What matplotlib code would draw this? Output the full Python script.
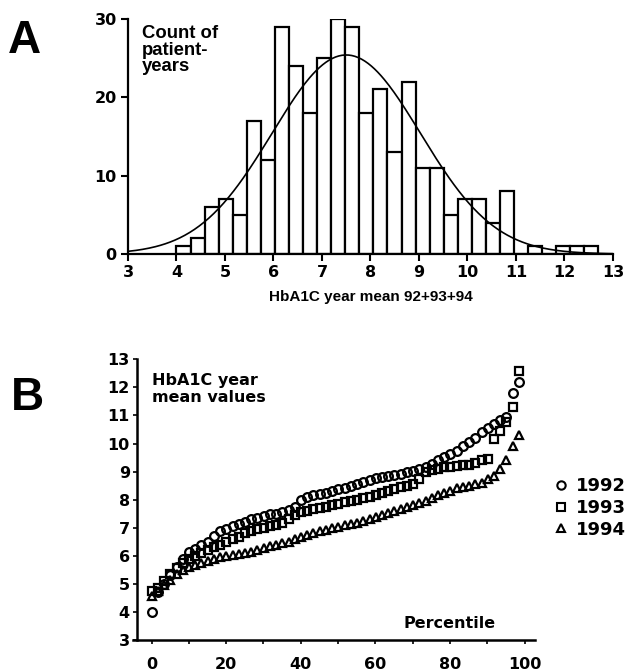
import matplotlib.pyplot as plt
import numpy as np
from matplotlib.lines import Line2D

# panel A: histogram of HbA1C year means
counts = [1, 2, 6, 7, 5, 17, 12, 29, 24, 18, 25, 30, 29, 18, 21,
          13, 22, 11, 11, 5, 7, 7, 4, 8, 0, 1, 0, 1, 1, 1]
bin_start = 4.0
bin_width = 0.29
fit_mean = 7.5
fit_sd = 1.53

# panel B: sorted yearly means by percentile
years = ['1992', '1993', '1994']
v1992 = [4.0, 4.7, 5.0, 5.3, 5.6, 5.9, 6.15, 6.25, 6.4, 6.5,
         6.7, 6.9, 6.95, 7.05, 7.15, 7.2, 7.3, 7.35, 7.42, 7.48,
         7.5, 7.55, 7.62, 7.75, 7.98, 8.08, 8.15, 8.2, 8.25, 8.3,
         8.38, 8.42, 8.48, 8.55, 8.62, 8.7, 8.78, 8.8, 8.85, 8.88,
         8.92, 8.97, 9.02, 9.1, 9.18, 9.28, 9.4, 9.52, 9.62, 9.75,
         9.9, 10.05, 10.2, 10.4, 10.55, 10.7, 10.85, 10.95, 11.8, 12.2]
v1993 = [4.75, 4.85, 5.1, 5.35, 5.55, 5.75, 5.9, 6.0, 6.1, 6.2,
         6.3, 6.4, 6.5, 6.6, 6.68, 6.8, 6.9, 6.95, 7.0, 7.05,
         7.1, 7.18, 7.3, 7.45, 7.55, 7.6, 7.65, 7.7, 7.75, 7.8,
         7.85, 7.9, 7.95, 8.0, 8.05, 8.1, 8.15, 8.22, 8.3, 8.38,
         8.45, 8.5, 8.55, 8.75, 9.0, 9.05, 9.1, 9.15, 9.18, 9.2,
         9.22, 9.25, 9.3, 9.4, 9.45, 10.15, 10.45, 10.75, 11.3, 12.6]
v1994 = [4.55, 4.75, 4.95, 5.15, 5.35, 5.5, 5.6, 5.68, 5.75, 5.8,
         5.88, 5.95, 6.0, 6.02, 6.05, 6.1, 6.15, 6.2, 6.28, 6.35,
         6.4, 6.45, 6.5, 6.6, 6.68, 6.75, 6.82, 6.88, 6.92, 6.98,
         7.02, 7.08, 7.12, 7.18, 7.25, 7.32, 7.4, 7.45, 7.52, 7.6,
         7.68, 7.75, 7.8, 7.88, 7.95, 8.05, 8.15, 8.25, 8.32, 8.4,
         8.45, 8.5, 8.55, 8.6, 8.72, 8.85, 9.1, 9.4, 9.9, 10.3]
markers = ['o', 's', '^']
pct = np.linspace(0, 98.5, len(v1992))

tick_font = dict(family='DejaVu Sans', weight='bold', size=11.5)
arial = 'Liberation Sans'

fig = plt.figure(figsize=(6.27, 6.71), dpi=100)

# ---------- A ----------
axA = fig.add_axes([0.2041, 0.6215, 0.7735, 0.3502])
lefts = bin_start + bin_width * np.arange(len(counts))
axA.bar(lefts, counts, width=bin_width, align='edge',
        facecolor='white', edgecolor='black', linewidth=1.6)

xs = np.linspace(3, 13, 300)
n = sum(counts)
fit = n * bin_width / (fit_sd * np.sqrt(2 * np.pi)) * np.exp(-0.5 * ((xs - fit_mean) / fit_sd) ** 2)
axA.plot(xs, fit, color='black', linewidth=1.2)

axA.set_xlim(3, 13)
axA.set_ylim(0, 30)
axA.spines['right'].set_color('none')
axA.spines['top'].set_color('none')
axA.spines['left'].set_linewidth(1.6)
axA.spines['bottom'].set_linewidth(1.6)
axA.set_xticks(range(3, 14))
axA.set_yticks([0, 10, 20, 30])
axA.tick_params(direction='out', length=5, width=1.5, pad=3)
for lab in axA.get_xticklabels() + axA.get_yticklabels():
    lab.set_fontproperties(tick_font)

axA.text(0.029, 0.975, 'Count of\npatient-\nyears', transform=axA.transAxes,
         ha='left', va='top', family=arial, weight='bold', fontsize=13.3,
         linespacing=0.98)
axA.text(0.5, -0.185, 'HbA1C year mean 92+93+94', transform=axA.transAxes,
         ha='center', va='center', family=arial, weight='bold', fontsize=11)

fig.text(0.012, 0.9206, 'A', family=arial, weight='bold', fontsize=33, va='baseline')
fig.text(0.017, 0.389, 'B', family=arial, weight='bold', fontsize=33, va='baseline')

# ---------- B ----------
axB = fig.add_axes([0.2121, 0.0462, 0.6411, 0.4183])
for vals, m in zip([v1992, v1993, v1994], markers):
    axB.plot(pct, vals, linestyle='none', marker=m, markersize=6.3,
             markerfacecolor='none', markeredgecolor='black',
             markeredgewidth=1.6, clip_on=False)

axB.set_xlim(-5, 102.8)
axB.set_ylim(3, 13)
axB.spines['right'].set_color('none')
axB.spines['top'].set_color('none')
axB.spines['left'].set_position(('data', -4))
axB.spines['left'].set_linewidth(1.8)
axB.spines['bottom'].set_linewidth(1.8)
axB.set_xticks(range(0, 101, 20))
axB.set_xticks(range(10, 100, 20), minor=True)
axB.set_yticks(range(3, 14))
axB.tick_params(which='both', direction='out', length=3, width=1.2)
axB.tick_params(axis='x', pad=9)
axB.tick_params(axis='y', pad=2)
for lab in axB.get_xticklabels() + axB.get_yticklabels():
    lab.set_fontproperties(tick_font)

axB.text(0.047, 0.952, 'HbA1C year\nmean values', transform=axB.transAxes,
         ha='left', va='top', family='DejaVu Sans', weight='bold', fontsize=11.5,
         linespacing=1.15)
axB.text(0.672, 0.043, 'Percentile', transform=axB.transAxes,
         ha='left', va='baseline', family='DejaVu Sans', weight='bold', fontsize=11.5)

handles = [Line2D([], [], linestyle='none', marker=m, markersize=6,
                  markerfacecolor='none', markeredgecolor='black', markeredgewidth=1.5)
           for m in markers]
fig.legend(handles, years, loc='center left', bbox_to_anchor=(0.872, 0.243),
           frameon=False, handlelength=0.6, handletextpad=0.5, labelspacing=0.2,
           borderpad=0, prop=dict(family='DejaVu Sans', weight='bold', size=13))

plt.savefig('out.png')
